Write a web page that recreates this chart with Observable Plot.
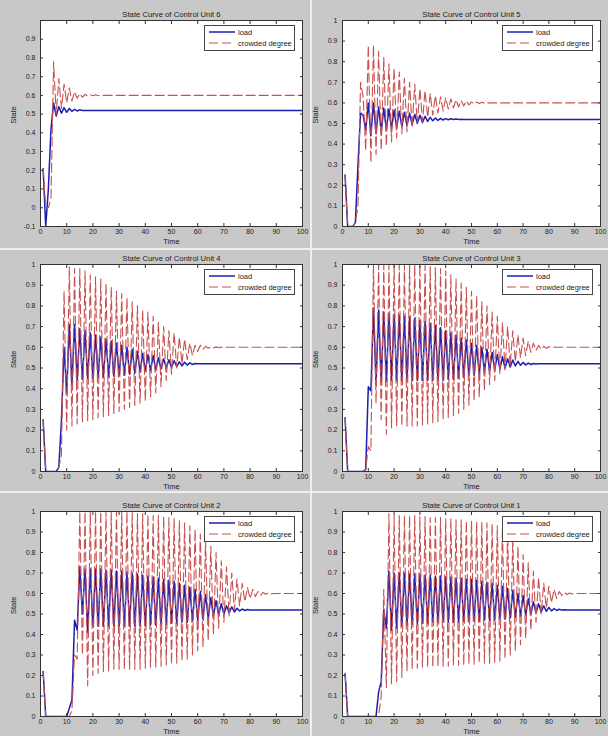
<!DOCTYPE html>
<html><head><meta charset="utf-8">
<script src="https://cdn.jsdelivr.net/npm/d3@7"></script>
<script src="https://cdn.jsdelivr.net/npm/@observablehq/plot@0.6"></script>
<style>
body{margin:0;background:#c8c8c8;}
#fig{position:relative;width:608px;height:736px;overflow:hidden;background:#c8c8c8;font-family:"Liberation Sans",Arial,sans-serif;}
.panel{position:absolute;}
.panel svg{overflow:visible;}
.sep{position:absolute;background:#efefef;}
.legend{position:absolute;background:#fff;border:1px solid #444;box-sizing:border-box;width:91px;height:26px;}
.legend svg{display:block;}
</style></head><body><div id="fig"></div><script>
// ---------- data ----------
const time = d3.range(1, 101);
const xTicks = [0, 10, 20, 30, 40, 50, 60, 70, 80, 90, 100];
const yTicks = [0, 0.1, 0.2, 0.3, 0.4, 0.5, 0.6, 0.7, 0.8, 0.9, 1];
const yTicksUnit6 = [-0.1, 0, 0.1, 0.2, 0.3, 0.4, 0.5, 0.6, 0.7, 0.8, 0.9];
const seriesNames = ["load", "crowded degree"];

const unit6Load = [
0.21,-0.1,0.1,0.42,0.56,0.49,0.54,0.505,0.535,0.51,
0.53,0.515,0.526,0.517,0.523,0.52,0.52,0.52,0.52,0.52,
0.52,0.52,0.52,0.52,0.52,0.52,0.52,0.52,0.52,0.52,
0.52,0.52,0.52,0.52,0.52,0.52,0.52,0.52,0.52,0.52,
0.52,0.52,0.52,0.52,0.52,0.52,0.52,0.52,0.52,0.52,
0.52,0.52,0.52,0.52,0.52,0.52,0.52,0.52,0.52,0.52,
0.52,0.52,0.52,0.52,0.52,0.52,0.52,0.52,0.52,0.52,
0.52,0.52,0.52,0.52,0.52,0.52,0.52,0.52,0.52,0.52,
0.52,0.52,0.52,0.52,0.52,0.52,0.52,0.52,0.52,0.52,
0.52,0.52,0.52,0.52,0.52,0.52,0.52,0.52,0.52,0.52];
const unit6Crowded = [
0.21,0,0,0.05,0.78,0.5,0.69,0.53,0.66,0.56,
0.64,0.57,0.62,0.585,0.61,0.59,0.606,0.596,0.603,0.598,
0.603,0.598,0.601,0.6,0.6,0.6,0.6,0.6,0.6,0.6,
0.6,0.6,0.6,0.6,0.6,0.6,0.6,0.6,0.6,0.6,
0.6,0.6,0.6,0.6,0.6,0.6,0.6,0.6,0.6,0.6,
0.6,0.6,0.6,0.6,0.6,0.6,0.6,0.6,0.6,0.6,
0.6,0.6,0.6,0.6,0.6,0.6,0.6,0.6,0.6,0.6,
0.6,0.6,0.6,0.6,0.6,0.6,0.6,0.6,0.6,0.6,
0.6,0.6,0.6,0.6,0.6,0.6,0.6,0.6,0.6,0.6,
0.6,0.6,0.6,0.6,0.6,0.6,0.6,0.6,0.6,0.6];

const unit5Load = [
0.25,0,0,0,0.02,0.3,0.55,0.54,0.47,0.6,
0.44,0.6,0.45,0.58,0.46,0.575,0.47,0.57,0.475,0.565,
0.48,0.56,0.485,0.555,0.49,0.55,0.495,0.545,0.5,0.54,
0.505,0.535,0.51,0.53,0.513,0.527,0.515,0.525,0.517,0.524,
0.518,0.523,0.519,0.522,0.52,0.521,0.52,0.52,0.52,0.52,
0.52,0.52,0.52,0.52,0.52,0.52,0.52,0.52,0.52,0.52,
0.52,0.52,0.52,0.52,0.52,0.52,0.52,0.52,0.52,0.52,
0.52,0.52,0.52,0.52,0.52,0.52,0.52,0.52,0.52,0.52,
0.52,0.52,0.52,0.52,0.52,0.52,0.52,0.52,0.52,0.52,
0.52,0.52,0.52,0.52,0.52,0.52,0.52,0.52,0.52,0.52];
const unit5Crowded = [
0.25,0,0,0,0.02,0.1,0.7,0.63,0.37,0.88,
0.31,0.88,0.35,0.85,0.37,0.82,0.39,0.79,0.41,0.77,
0.43,0.75,0.45,0.72,0.46,0.7,0.48,0.69,0.5,0.67,
0.51,0.66,0.53,0.645,0.54,0.635,0.55,0.63,0.56,0.625,
0.57,0.62,0.575,0.615,0.58,0.612,0.585,0.61,0.59,0.605,
0.595,0.604,0.597,0.603,0.598,0.602,0.599,0.601,0.6,0.6,
0.6,0.6,0.6,0.6,0.6,0.6,0.6,0.6,0.6,0.6,
0.6,0.6,0.6,0.6,0.6,0.6,0.6,0.6,0.6,0.6,
0.6,0.6,0.6,0.6,0.6,0.6,0.6,0.6,0.6,0.6,
0.6,0.6,0.6,0.6,0.6,0.6,0.6,0.6,0.6,0.6];

const unit4Load = [
0.25,0,0,0,0,0,0.02,0.25,0.6,0.38,
0.71,0.42,0.71,0.44,0.69,0.445,0.68,0.45,0.67,0.45,
0.66,0.452,0.65,0.455,0.64,0.457,0.63,0.46,0.62,0.462,
0.61,0.465,0.6,0.47,0.59,0.475,0.58,0.48,0.57,0.485,
0.565,0.487,0.56,0.49,0.55,0.495,0.545,0.5,0.54,0.503,
0.535,0.507,0.53,0.51,0.528,0.514,0.525,0.517,0.522,0.52,
0.52,0.52,0.52,0.52,0.52,0.52,0.52,0.52,0.52,0.52,
0.52,0.52,0.52,0.52,0.52,0.52,0.52,0.52,0.52,0.52,
0.52,0.52,0.52,0.52,0.52,0.52,0.52,0.52,0.52,0.52,
0.52,0.52,0.52,0.52,0.52,0.52,0.52,0.52,0.52,0.52];
const unit4Crowded = [
0.25,0,0,0,0,0,0.02,0.08,0.87,0.2,
0.99,0.22,0.98,0.23,0.98,0.24,0.97,0.245,0.95,0.25,
0.94,0.26,0.93,0.265,0.91,0.27,0.89,0.28,0.87,0.29,
0.86,0.3,0.84,0.31,0.82,0.32,0.8,0.33,0.78,0.34,
0.77,0.36,0.75,0.38,0.72,0.41,0.7,0.44,0.68,0.47,
0.67,0.5,0.65,0.52,0.64,0.54,0.62,0.56,0.61,0.58,
0.61,0.59,0.605,0.595,0.603,0.597,0.602,0.598,0.601,0.6,
0.6,0.6,0.6,0.6,0.6,0.6,0.6,0.6,0.6,0.6,
0.6,0.6,0.6,0.6,0.6,0.6,0.6,0.6,0.6,0.6,
0.6,0.6,0.6,0.6,0.6,0.6,0.6,0.6,0.6,0.6];

const unit3Load = [
0.26,0,0,0,0,0,0,0,0.01,0.41,
0.39,0.79,0.42,0.78,0.43,0.77,0.435,0.765,0.44,0.76,
0.44,0.755,0.44,0.75,0.44,0.745,0.44,0.74,0.44,0.73,
0.44,0.725,0.44,0.715,0.44,0.705,0.44,0.695,0.44,0.68,
0.445,0.67,0.445,0.66,0.45,0.645,0.455,0.635,0.46,0.62,
0.465,0.61,0.47,0.6,0.48,0.59,0.485,0.575,0.49,0.565,
0.495,0.555,0.5,0.545,0.505,0.538,0.51,0.532,0.513,0.527,
0.515,0.524,0.517,0.522,0.519,0.521,0.52,0.52,0.52,0.52,
0.52,0.52,0.52,0.52,0.52,0.52,0.52,0.52,0.52,0.52,
0.52,0.52,0.52,0.52,0.52,0.52,0.52,0.52,0.52,0.52];
const unit3Crowded = [
0.26,0,0,0,0,0,0,0,0.01,0.12,
0.1,1,0.33,1,0.25,1,0.18,1,0.21,1,
0.22,1,0.22,1,0.22,1,0.22,1,0.22,1,
0.225,0.995,0.23,0.99,0.235,0.985,0.24,0.98,0.25,0.97,
0.26,0.95,0.27,0.93,0.28,0.91,0.3,0.89,0.32,0.87,
0.34,0.85,0.36,0.82,0.39,0.8,0.42,0.77,0.44,0.75,
0.47,0.72,0.49,0.7,0.51,0.68,0.53,0.66,0.55,0.645,
0.56,0.63,0.575,0.62,0.585,0.61,0.59,0.605,0.595,0.603,
0.598,0.601,0.6,0.6,0.6,0.6,0.6,0.6,0.6,0.6,
0.6,0.6,0.6,0.6,0.6,0.6,0.6,0.6,0.6,0.6];

const unit2Load = [
0.22,0,0,0,0,0,0,0,0,0,
0.04,0.08,0.47,0.42,0.73,0.5,0.72,0.41,0.72,0.44,
0.72,0.44,0.72,0.44,0.715,0.44,0.715,0.44,0.71,0.44,
0.71,0.44,0.705,0.44,0.7,0.44,0.695,0.44,0.69,0.44,
0.685,0.445,0.68,0.445,0.675,0.45,0.67,0.45,0.665,0.455,
0.66,0.455,0.65,0.46,0.64,0.46,0.63,0.465,0.62,0.47,
0.61,0.475,0.595,0.48,0.58,0.49,0.565,0.495,0.55,0.5,
0.54,0.505,0.535,0.51,0.528,0.515,0.524,0.517,0.522,0.52,
0.52,0.52,0.52,0.52,0.52,0.52,0.52,0.52,0.52,0.52,
0.52,0.52,0.52,0.52,0.52,0.52,0.52,0.52,0.52,0.52];
const unit2Crowded = [
0.22,0,0,0,0,0,0,0,0,0,
0,0.03,0.3,0.28,1,0.3,1,0.15,1,0.2,
1,0.21,1,0.22,1,0.22,1,0.23,1,0.23,
1,0.23,1,0.23,0.995,0.23,0.99,0.23,0.99,0.235,
0.985,0.24,0.98,0.24,0.98,0.245,0.975,0.25,0.97,0.255,
0.965,0.26,0.955,0.27,0.945,0.28,0.93,0.3,0.915,0.32,
0.89,0.34,0.86,0.37,0.83,0.4,0.8,0.43,0.76,0.46,
0.73,0.49,0.7,0.52,0.67,0.54,0.65,0.56,0.63,0.575,
0.62,0.585,0.61,0.592,0.605,0.596,0.603,0.598,0.6,0.6,
0.6,0.6,0.6,0.6,0.6,0.6,0.6,0.6,0.6,0.6];

const unit1Load = [
0.21,0,0,0,0,0,0,0,0,0,
0,0,0,0.12,0.17,0.52,0.43,0.71,0.42,0.7,
0.43,0.7,0.44,0.7,0.445,0.695,0.45,0.695,0.45,0.695,
0.455,0.69,0.455,0.69,0.46,0.685,0.46,0.685,0.46,0.68,
0.46,0.68,0.46,0.675,0.46,0.675,0.465,0.67,0.465,0.67,
0.465,0.665,0.465,0.66,0.47,0.655,0.47,0.65,0.47,0.64,
0.475,0.635,0.475,0.625,0.48,0.615,0.485,0.6,0.49,0.59,
0.495,0.575,0.5,0.56,0.505,0.55,0.51,0.54,0.513,0.532,
0.515,0.527,0.517,0.523,0.519,0.521,0.52,0.52,0.52,0.52,
0.52,0.52,0.52,0.52,0.52,0.52,0.52,0.52,0.52,0.52];
const unit1Crowded = [
0.21,0,0,0,0,0,0,0,0,0,
0,0,0,0,0.1,0.62,0.14,0.99,0.16,0.98,
0.17,0.98,0.19,0.98,0.22,0.98,0.23,0.98,0.235,0.975,
0.24,0.975,0.24,0.97,0.24,0.97,0.245,0.97,0.245,0.965,
0.245,0.965,0.25,0.96,0.25,0.96,0.25,0.955,0.255,0.955,
0.255,0.95,0.26,0.95,0.26,0.945,0.26,0.94,0.265,0.93,
0.27,0.92,0.28,0.9,0.3,0.87,0.32,0.83,0.35,0.79,
0.38,0.75,0.42,0.71,0.46,0.68,0.5,0.65,0.53,0.635,
0.555,0.62,0.575,0.61,0.59,0.605,0.595,0.602,0.598,0.601,
0.6,0.6,0.6,0.6,0.6,0.6,0.6,0.6,0.6,0.6];

const titles = ["State Curve of Control Unit 6","State Curve of Control Unit 5","State Curve of Control Unit 4",
  "State Curve of Control Unit 3","State Curve of Control Unit 2","State Curve of Control Unit 1"];
const loads = [unit6Load, unit5Load, unit4Load, unit3Load, unit2Load, unit1Load];
const crowds = [unit6Crowded, unit5Crowded, unit4Crowded, unit3Crowded, unit2Crowded, unit1Crowded];

// ---------- layout / style ----------
const BLUE = "#1e1eb0", RED = "#c85050", DASH = "9,4";
const FONT = "'Liberation Sans', Arial, Helvetica, sans-serif";
const colLeft = [0, 302], colWidth = [304, 306], colMR = [2, 8];
const rowTop = [0, 245, 490], rowHeight = [245, 245, 246], rowMT = [20, 19, 21], rowMB = [19, 19, 20];
const ML = 40;

const fig = document.getElementById("fig");

titles.forEach((title, i) => {
  const col = i % 2, row = Math.floor(i / 2);
  const yDomain = i === 0 ? [-0.1, 1] : [0, 1];
  const yt = i === 0 ? yTicksUnit6 : yTicks;
  const data = time.map((t, k) => ({t, load: loads[i][k], crowd: crowds[i][k]}));
  const fmt = d => String(d);
  const blank = () => "";
  const chart = Plot.plot({
    width: colWidth[col], height: rowHeight[row],
    marginLeft: ML, marginRight: colMR[col], marginTop: rowMT[row], marginBottom: rowMB[row],
    style: {background: "transparent", fontFamily: FONT, fontSize: "7px", color: "#222", overflow: "visible"},
    x: {domain: [0, 100]},
    y: {domain: yDomain},
    marks: [
      Plot.frame({fill: "white", stroke: "none"}),
      Plot.line(data, {x: "t", y: "load", stroke: BLUE, strokeWidth: 1.5, clip: true}),
      Plot.line(data, {x: "t", y: "crowd", stroke: RED, strokeWidth: 1.1, strokeDasharray: DASH, clip: true}),
      Plot.frame({stroke: "#333", strokeWidth: 1}),
      // inward ticks on all four sides
      Plot.axisX(xTicks, {anchor: "bottom", tickSize: 3, dy: -3, tickFormat: blank, label: null, stroke: "#333"}),
      Plot.axisX(xTicks, {anchor: "top", tickSize: 3, dy: 3, tickFormat: blank, label: null, stroke: "#333"}),
      Plot.axisY(yt, {anchor: "left", tickSize: 3, dx: 3, tickFormat: blank, label: null, stroke: "#333"}),
      Plot.axisY(yt, {anchor: "right", tickSize: 3, dx: -3, tickFormat: blank, label: null, stroke: "#333"}),
      // tick labels
      Plot.axisX(xTicks, {anchor: "bottom", tickSize: 0, tickPadding: 3, tickFormat: fmt, label: null, fontSize: 7}),
      Plot.axisY(yt, {anchor: "left", tickSize: 0, tickPadding: 5, tickFormat: fmt, label: null, fontSize: 7}),
      // titles
      Plot.text([title], {frameAnchor: "top", dy: -9, fontSize: 7.7, fill: "#222"}),
      Plot.text(["Time"], {frameAnchor: "bottom", dy: 17, fontSize: 7.5, fill: "#222"}),
      Plot.text(["State"], {frameAnchor: "left", dx: -27, rotate: -90, fontSize: 7.5, fill: "#222"})
    ]
  });
  const wrap = document.createElement("div");
  wrap.className = "panel";
  wrap.style.left = colLeft[col] + "px";
  wrap.style.top = rowTop[row] + "px";
  wrap.appendChild(chart);
  fig.appendChild(wrap);

  // legend box
  const frameRight = colLeft[col] + colWidth[col] - colMR[col];
  const lg = document.createElement("div");
  lg.className = "legend";
  lg.style.left = (frameRight - 7 - 91) + "px";
  lg.style.top = (rowTop[row] + rowMT[row] + 5) + "px";
  const s = d3.create("svg").attr("width", 89).attr("height", 24)
    .style("font-family", FONT).style("font-size", "7.5px");
  const styles = [{stroke: BLUE, w: 1.5, dash: null}, {stroke: RED, w: 1.1, dash: DASH}];
  seriesNames.forEach((name, j) => {
    const y = 6 + j * 11;
    s.append("line").attr("x1", 4).attr("x2", 30).attr("y1", y).attr("y2", y)
      .attr("stroke", styles[j].stroke).attr("stroke-width", styles[j].w)
      .attr("stroke-dasharray", styles[j].dash);
    s.append("text").attr("x", 33).attr("y", y).attr("dy", "0.35em").attr("fill", "#222").text(name);
  });
  lg.appendChild(s.node());
  fig.appendChild(lg);
});

// separators between the six sub-figures
[[310, 0, 2, 736], [0, 248, 608, 2], [0, 491, 608, 2]].forEach(([l, t, w, h]) => {
  const d = document.createElement("div");
  d.className = "sep";
  Object.assign(d.style, {left: l + "px", top: t + "px", width: w + "px", height: h + "px"});
  fig.appendChild(d);
});
</script></body></html>
